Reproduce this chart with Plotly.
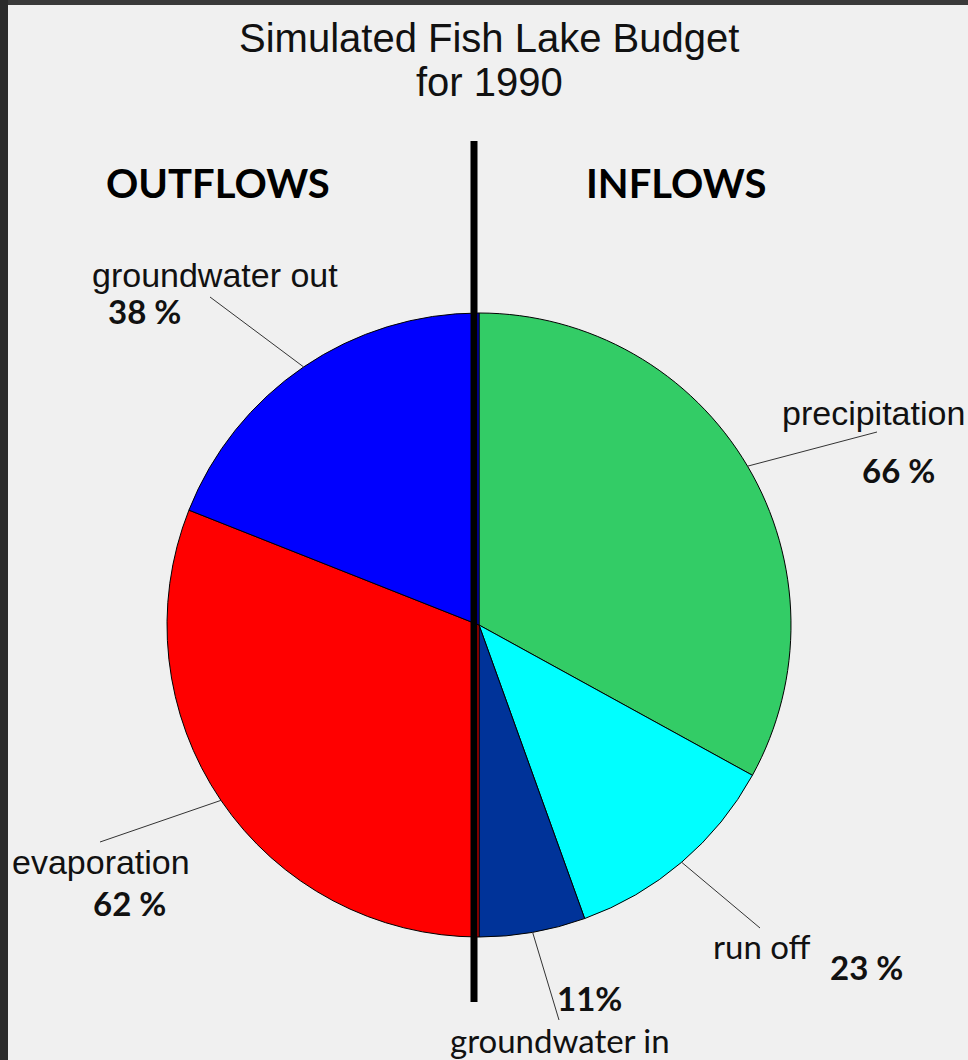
import math
import plotly.graph_objects as go

# Lake water budget, 1990 (percent of each side of the budget)
inflow_labels = ["precipitation", "run off", "groundwater in"]
inflow_pct = [66, 23, 11]
outflow_labels = ["evaporation", "groundwater out"]
outflow_pct = [62, 38]

inflow_colors = ["#33cc66", "#00ffff", "#003399"]
outflow_colors = ["#ff0000", "#0000ff"]

W, H = 968, 1060
CX, CY, R = 479, 625, 312          # pie centre / radius in pixels

labels = inflow_labels + outflow_labels
# each side fills one half of the pie
values = [p / 2 for p in inflow_pct] + [p / 2 for p in outflow_pct]
pcts = inflow_pct + outflow_pct
colors = inflow_colors + outflow_colors

fig = go.Figure()

fig.add_trace(go.Pie(
    labels=labels,
    values=values,
    sort=False,
    direction="clockwise",
    rotation=0,
    textinfo="none",
    hoverinfo="label",
    marker=dict(colors=colors, line=dict(color="#000000", width=1)),
    domain=dict(x=[(CX - R) / W, (CX + R) / W],
                y=[1 - (CY + R) / H, 1 - (CY - R) / H]),
    showlegend=False,
))

# label placement: name anchor, percent anchor, leader line end
label_layout = {
    "precipitation":   dict(name=(967, 413, "right"), pct=(898, 470), end=(877, 432), font="Liberation Sans"),
    "run off":         dict(name=(711, 946, "left"), pct=(866, 967), end=(760, 928), font="Lato"),
    "groundwater in":  dict(name=(560, 1040, "center"), pct=(589, 998), end=(559, 1020), font="Lato"),
    "evaporation":     dict(name=(10, 862, "left"), pct=(129, 903), end=(100, 842), font="Liberation Sans"),
    "groundwater out": dict(name=(90, 275, "left"), pct=(144, 311), end=(210, 297), font="Liberation Sans"),
}
pct_sep = {"groundwater in": ""}

shapes = []
annotations = []

total = sum(values)
cum = 0.0
for lab, val, pct in zip(labels, values, pcts):
    mid = (cum + val / 2) / total * 2 * math.pi
    cum += val
    sx = CX + R * math.sin(mid)
    sy = CY - R * math.cos(mid)
    cfg = label_layout[lab]
    ex, ey = cfg["end"]
    shapes.append(dict(type="line", xref="x", yref="y", x0=sx, y0=sy, x1=ex, y1=ey,
                       line=dict(color="#333333", width=1), layer="above"))
    nx, ny, nanchor = cfg["name"]
    annotations.append(dict(x=nx, y=ny, xref="x", yref="y", text=lab, showarrow=False,
                            xanchor=nanchor, yanchor="middle",
                            font=dict(family=cfg["font"], size=34 if cfg["font"] != "Lato" else 33,
                                      color="#111111")))
    px, py = cfg["pct"]
    annotations.append(dict(x=px, y=py, xref="x", yref="y",
                            text=f"<b>{pct}{pct_sep.get(lab, ' ')}%</b>", showarrow=False,
                            xanchor="center", yanchor="middle",
                            font=dict(family="Lato", size=33, color="#111111")))

# headers and title
annotations += [
    dict(x=218, y=183, xref="x", yref="y", text="<b>OUTFLOWS</b>", showarrow=False,
         font=dict(family="Lato", size=40, color="#000000")),
    dict(x=676, y=183, xref="x", yref="y", text="<b>INFLOWS</b>", showarrow=False,
         font=dict(family="Lato", size=40, color="#000000")),
    dict(x=489, y=38, xref="x", yref="y", text="Simulated Fish Lake Budget", showarrow=False,
         font=dict(family="Liberation Sans", size=40, color="#111111")),
    dict(x=489, y=82, xref="x", yref="y", text="for 1990", showarrow=False,
         font=dict(family="Liberation Sans", size=40, color="#111111")),
]

# dividing line between outflows and inflows
shapes.append(dict(type="line", xref="x", yref="y", x0=474, x1=474, y0=141, y1=1002,
                   line=dict(color="#000000", width=7), layer="above"))

# dark frame along the top and left edges
shapes.append(dict(type="rect", xref="x", yref="y", x0=0, x1=W, y0=0, y1=5,
                   fillcolor="#3a3a3a", line=dict(width=0), layer="above"))
shapes.append(dict(type="rect", xref="x", yref="y", x0=0, x1=8, y0=0, y1=H,
                   fillcolor="#2b2b2b", line=dict(width=0), layer="above"))

fig.update_layout(
    width=W, height=H,
    margin=dict(l=0, r=0, t=0, b=0),
    paper_bgcolor="#f0f0f0",
    plot_bgcolor="rgba(0,0,0,0)",
    xaxis=dict(range=[0, W], visible=False, fixedrange=True, domain=[0, 1]),
    yaxis=dict(range=[H, 0], visible=False, fixedrange=True, domain=[0, 1]),
    shapes=shapes,
    annotations=annotations,
)

fig.write_html("out.html")
